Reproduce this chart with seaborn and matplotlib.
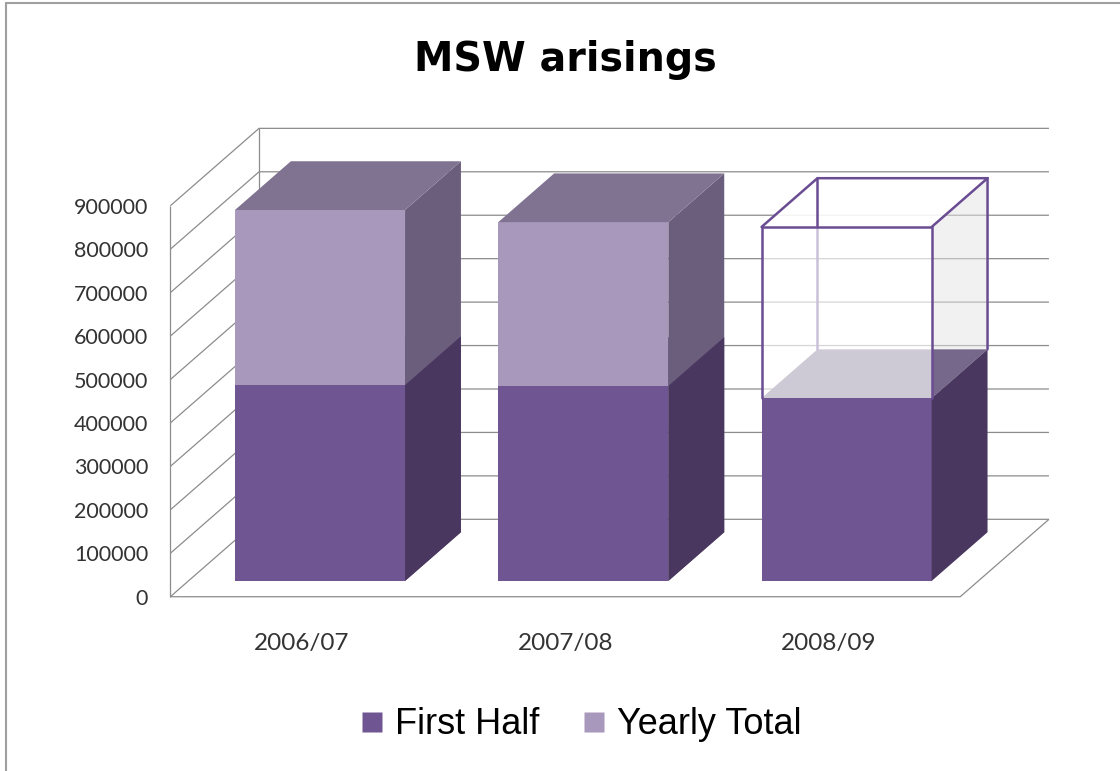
import numpy as np
import pandas as pd
import matplotlib
matplotlib.use("Agg")
import matplotlib.pyplot as plt
from matplotlib.patches import Polygon
from matplotlib.lines import Line2D
import seaborn as sns

years = ["2006/07", "2007/08", "2008/09"]
first_half = [451000, 449000, 421000]
yearly_total = [854000, 826000, 815000]
projected = [False, False, True]   # 2008/09 total is only an estimate (outline box)
y_ticks = list(range(0, 900001, 100000))

dark_front = "#6F5693"
dark_side = "#4A3760"
dark_top = "#76688A"
light_front = "#A899BC"
light_side = "#6B5D7C"
light_top = "#7F7391"
outline = "#6A4C93"
grid_col = "#8C8C8C"

# fake 3d: t=0 is the front of the floor, t=1 the back wall
T0, T1 = 0.203, 0.833
DX, DY = 0.3369, 178177


def proj(x, y, t):
    return (x + (t - T0) * DX, y + (t - T0) * DY)


def face(pts, **kw):
    ax.add_patch(Polygon([proj(*p) for p in pts], closed=True, lw=0, clip_on=False, **kw))


def edge(pts, **kw):
    xy = np.array([proj(*p) for p in pts])
    ax.plot(xy[:, 0], xy[:, 1], clip_on=False, **kw)


sns.set_style("white")
plt.rcParams['font.family'] = ['Lato', 'DejaVu Sans']

fig = plt.figure(figsize=(11.2, 7.71), dpi=100)
ax = fig.add_axes([0.16817, 0.21826, 0.70527, 0.59160])

df = pd.DataFrame({"Year": years, "First Half": first_half, "Yearly Total": yearly_total})
sns.barplot(data=df, x="Year", y="Yearly Total", color=light_front, saturation=1,
            width=0.646, errorbar=None, linewidth=0, zorder=2, ax=ax)
sns.barplot(data=df, x="Year", y="First Half", color=dark_front, saturation=1,
            width=0.646, errorbar=None, linewidth=0, zorder=3, ax=ax)
ax.set_xlim(-0.5, 2.5)
ax.set_ylim(-50000, 1000000)

# walls and floor
xl, xr = -0.5, 2.5
top = y_ticks[-1]
gk = dict(color=grid_col, lw=0.9, zorder=1, solid_capstyle='butt')
for v in y_ticks:
    edge([(xl, v, 0), (xl, v, 1), (xr, v, 1)], **gk)
edge([(xl, 0, 0), (xl, top, 0)], **gk)
edge([(xl, 0, 1), (xl, top, 1)], **gk)
edge([(xl, 0, 0), (xr, 0, 0), (xr, 0, 1)], **gk)

tot_patches = ax.patches[:3]
for i, p in enumerate(tot_patches):
    x0, x1 = p.get_x(), p.get_x() + p.get_width()
    h1, h2 = first_half[i], yearly_total[i]
    face([(x1, 0, T0), (x1, 0, T1), (x1, h1, T1), (x1, h1, T0)], fc=dark_side, zorder=3)
    face([(x0, h1, T0), (x1, h1, T0), (x1, h1, T1), (x0, h1, T1)], fc=dark_top, zorder=1.8)
    if not projected[i]:
        face([(x1, 0, T0), (x1, 0, T1), (x1, h2, T1), (x1, h2, T0)], fc=light_side, zorder=2)
        face([(x0, h2, T0), (x1, h2, T0), (x1, h2, T1), (x0, h2, T1)], fc=light_top, zorder=2)
    else:
        p.set_y(h1)
        p.set_height(h2 - h1)
        p.set_facecolor((1, 1, 1, 0.65))
        p.set_zorder(4)
        face([(x1, h1, T0), (x1, h1, T1), (x1, h2, T1), (x1, h2, T0)],
             fc="#E4E4E4", alpha=0.5, zorder=1.5)
        face([(x0, h2, T0), (x1, h2, T0), (x1, h2, T1), (x0, h2, T1)],
             fc="white", alpha=0.9, zorder=3.4)
        ek = dict(color=outline, lw=1.8, solid_joinstyle='miter')
        edge([(x0, h1, T1), (x0, h2, T1)], zorder=3.5, **ek)
        edge([(x0, h1, T0), (x0, h2, T0), (x1, h2, T0), (x1, h1, T0)], zorder=5, **ek)
        edge([(x0, h2, T0), (x0, h2, T1), (x1, h2, T1), (x1, h1, T1)], zorder=5, **ek)
        edge([(x1, h2, T0), (x1, h2, T1)], zorder=5, **ek)

ax.set_yticks([v - T0 * DY for v in y_ticks], [str(v) for v in y_ticks])
ax.set_xticks([i - T0 * DX for i in range(len(years))], years)
ax.tick_params(axis='y', length=0, pad=29, labelsize=15.5, labelcolor='#333333')
ax.tick_params(axis='x', length=0, pad=22, labelsize=17.5, labelcolor='#333333')
for s in ax.spines.values():
    s.set_visible(False)
ax.set_xlabel('')
ax.set_ylabel('')
ax.patch.set_alpha(0)

fig.text(0.505, 0.9083, "MSW arisings", ha='center', va='baseline', color='black',
         fontsize=28.5, fontweight='bold', family='DejaVu Sans')

handles = [Line2D([], [], ls='', marker='s', ms=14.4, mfc=dark_front, mec='none'),
           Line2D([], [], ls='', marker='s', ms=14.4, mfc=light_front, mec='none')]
leg = fig.legend(handles, ["First Half", "Yearly Total"], loc='center',
                 bbox_to_anchor=(0.519, 0.06), ncol=2, frameon=False,
                 prop={'family': 'Liberation Sans', 'size': 26},
                 handlelength=0.6, handletextpad=0.35, columnspacing=1.2)
for t in leg.get_texts():
    t.set_color('black')

# outer frame (top and left only, as in the original screenshot)
fig.add_artist(Line2D([6 / 1120, 6 / 1120], [0, 1 - 3 / 771], transform=fig.transFigure,
                      color='#A0A0A0', lw=1.5))
fig.add_artist(Line2D([6 / 1120, 1], [1 - 3 / 771, 1 - 3 / 771], transform=fig.transFigure,
                      color='#A0A0A0', lw=1.5))

fig.savefig("out.png", dpi=100)
